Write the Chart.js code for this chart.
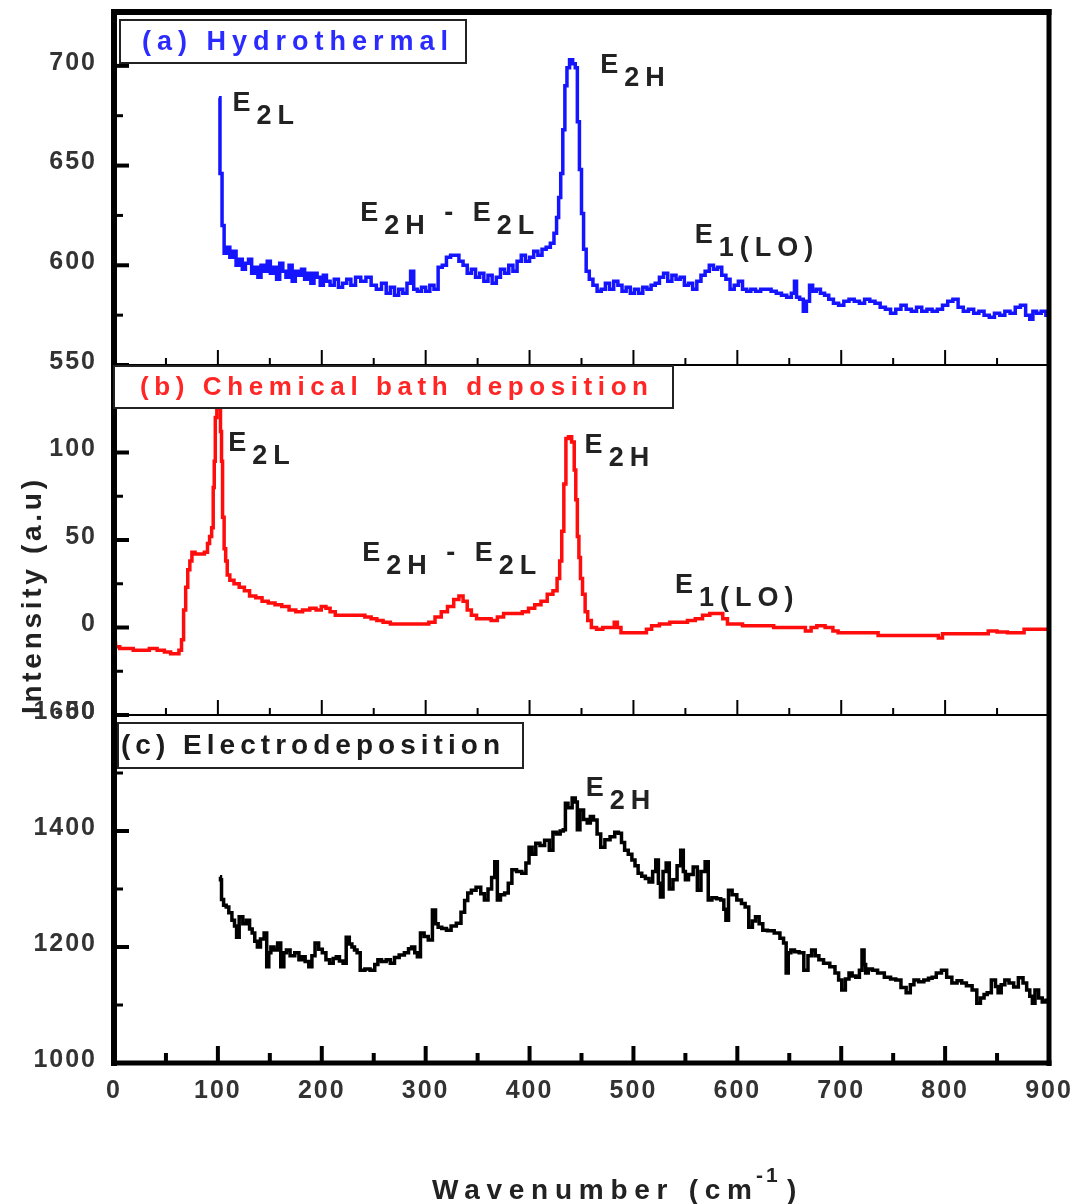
<!DOCTYPE html>
<html>
<head>
<meta charset="utf-8">
<script src="https://cdn.jsdelivr.net/npm/chart.js@4.4.0/dist/chart.umd.min.js"></script>
<style>
  html, body { margin: 0; padding: 0; background: #fff; }
  #wrap { width: 1074px; height: 1204px; position: relative; }
</style>
</head>
<body>
<div id="wrap"><canvas id="raman"></canvas></div>
<script>
// ---- data ----
const xMajorTicks = [0, 100, 200, 300, 400, 500, 600, 700, 800, 900];
const xMinorTicks = [50, 150, 250, 350, 450, 550, 650, 750, 850];

const aTicks = [550, 600, 650, 700];
const aMinor = [575, 625, 675];
const bTicks = [-50, 0, 50, 100];
const bMinor = [-25, 25, 75];
const cTicks = [1000, 1200, 1400, 1600];
const cMinor = [1100, 1300, 1500];

// (a) Hydrothermal
const aWave = [101,103,105,107,110,113,116,119,122,125,128,131,134,137,140,143,146,149,152,155,158,161,164,167,170,173,176,179,182,185,188,191,194,197,200,203,206,210,214,218,222,226,230,235,240,245,250,255,260,264,268,272,276,280,284,287,290,294,298,302,306,310,314,318,322,326,330,334,338,342,346,350,354,358,362,366,370,374,378,382,386,390,394,398,402,406,410,414,418,422,425,427,429,431,433,435,437,440,443,445,447,449,451,453,456,459,463,467,471,475,479,483,487,491,495,499,503,507,511,515,519,523,527,531,535,539,543,547,551,555,559,563,567,571,575,579,583,587,591,595,599,603,607,611,615,620,625,630,635,640,645,650,654,656,658,662,665,668,671,674,678,682,686,690,695,700,705,710,715,720,725,730,735,740,745,750,755,760,765,770,775,780,785,790,795,800,805,810,815,820,825,830,835,840,845,850,855,860,865,870,875,880,883,886,890,895,899];
const aInt = [684,646,620,606,609,604,607,600,603,598,601,603,596,599,594,600,597,602,596,599,593,601,597,594,600,592,597,595,598,593,596,591,596,594,590,595,592,590,593,589,591,593,590,594,592,594,590,588,591,586,589,585,588,586,591,597,588,587,589,587,590,588,599,600,604,605,605,602,600,596,598,594,596,592,595,591,594,598,596,600,597,602,605,602,604,607,605,608,609,611,616,624,634,646,668,690,699,703,701,699,672,648,626,608,597,593,590,587,588,591,588,592,590,587,589,586,588,586,589,588,590,591,594,596,592,595,593,594,590,591,588,592,595,597,600,598,599,595,593,588,590,592,588,587,588,587,588,588,587,586,585,584,586,592,584,583,577,582,590,587,588,586,585,583,581,580,582,583,582,581,583,582,581,579,578,576,578,580,578,577,579,577,578,577,578,580,582,583,579,577,578,576,577,575,574,576,575,577,576,579,580,575,573,577,576,577,575];

// (b) Chemical bath deposition
const bWave = [0,3,8,15,22,30,38,45,52,57,61,64,66,68,70,72,74,76,80,85,89,91,93,95,96,97,98,100,102,103,104,105,107,108,110,113,118,123,128,133,140,145,152,158,165,172,178,185,192,197,202,206,210,216,222,230,238,245,250,256,262,270,280,290,300,306,312,318,324,330,334,338,342,346,352,360,366,372,378,384,390,396,402,408,414,420,425,428,430,432,434,436,439,442,444,445,447,448,450,452,455,457,462,467,474,480,483,486,490,500,510,515,520,530,540,548,556,563,570,577,584,588,593,600,610,620,630,640,650,662,669,673,680,689,695,699,710,720,732,739,750,765,780,792,795,800,815,830,838,845,855,865,872,880,888,896,900];
const bInt = [-9,-11,-12,-12,-13,-13,-12,-13,-14,-15,-15,-13,-7,10,23,33,38,43,42,42,43,48,52,57,80,95,120,135,130,112,95,63,45,38,30,27,25,23,21,18,17,15,14,13,12,10,9,10,11,10,12,11,9,7,7,7,7,6,5,4,3,2,2,2,2,3,6,9,12,16,18,15,10,7,5,5,4,6,8,8,8,9,11,13,15,19,21,28,38,55,82,108,109,106,90,73,52,40,28,19,9,4,0,-1,0,0,3,0,-3,-3,-3,-1,1,2,3,3,4,5,7,8,8,5,2,2,1,1,1,0,0,0,-2,0,1,0,-2,-3,-3,-3,-3,-4.5,-4.5,-4.5,-4.5,-4.5,-6,-3.5,-3.5,-3.5,-3.5,-2,-2.5,-3,-3,-1,-1,-1,-1];

// (c) Electrodeposition
const cWave = [102,103,104,107,109,112,115,117,119,122,126,129,132,134,137,139,143,146,148,150,152,156,159,162,165,167,172,176,180,182,186,189,192,195,199,202,206,209,213,215,219,222,225,228,230,233,235,239,244,249,253,255,260,264,268,272,277,282,285,288,291,293,297,300,305,308,311,313,318,322,327,332,336,339,342,346,351,355,358,362,365,368,370,374,378,381,385,390,395,398,401,404,408,412,417,421,424,428,431,434,435,439,443,445,447,450,454,457,460,463,467,470,475,480,484,487,490,493,497,500,503,506,510,513,517,520,523,525,527,530,533,536,540,544,547,549,551,555,560,563,567,571,573,578,582,586,588,590,593,597,602,606,609,613,616,619,623,626,632,639,643,646,648,650,653,657,662,666,670,673,677,680,686,692,696,699,702,706,709,712,716,719,721,723,724,728,732,738,745,750,755,760,765,768,772,777,782,786,789,794,799,804,809,814,818,823,829,832,836,839,842,847,850,852,856,859,864,868,873,877,880,883,885,888,892,895,899];
const cInt = [1321,1316,1282,1272,1269,1259,1246,1236,1217,1252,1240,1246,1231,1224,1210,1200,1214,1224,1166,1190,1200,1195,1207,1166,1190,1195,1185,1190,1178,1183,1175,1166,1185,1207,1196,1190,1178,1172,1180,1183,1176,1172,1217,1205,1200,1195,1190,1160,1162,1160,1170,1178,1175,1178,1172,1182,1186,1190,1197,1200,1190,1183,1224,1218,1212,1264,1240,1234,1232,1229,1236,1241,1260,1280,1293,1298,1303,1292,1281,1300,1320,1347,1281,1290,1293,1310,1333,1330,1327,1345,1372,1360,1379,1375,1384,1367,1398,1395,1400,1402,1448,1440,1457,1450,1402,1436,1420,1414,1425,1419,1395,1372,1385,1390,1398,1396,1380,1367,1360,1350,1340,1327,1322,1318,1312,1330,1350,1310,1286,1330,1345,1300,1316,1340,1367,1330,1316,1325,1338,1298,1330,1347,1281,1285,1283,1281,1265,1246,1298,1290,1281,1275,1269,1234,1245,1252,1240,1229,1228,1224,1215,1207,1155,1190,1195,1192,1190,1160,1185,1195,1185,1178,1172,1166,1155,1143,1126,1145,1155,1150,1148,1160,1195,1170,1155,1162,1160,1155,1148,1145,1143,1130,1121,1135,1143,1140,1143,1146,1148,1155,1160,1148,1138,1142,1138,1133,1126,1103,1112,1118,1121,1143,1132,1121,1135,1143,1138,1131,1147,1138,1126,1115,1103,1126,1112,1105,1108];

// peak labels: [axis, wavenumber, value, parts]  (value = where the "E" sits)
const peakLabels = [
  ['yA', 114, 681, [['E', 0], ['2L', 1]]],
  ['yA', 237, 626, [['E', 0], ['2H', 1], [' - ', 0], ['E', 0], ['2L', 1]]],
  ['yA', 468, 700, [['E', 0], ['2H', 1]]],
  ['yA', 559, 615, [['E', 0], ['1(LO)', 1]]],
  ['yB', 110, 105, [['E', 0], ['2L', 1]]],
  ['yB', 239, 42, [['E', 0], ['2H', 1], [' - ', 0], ['E', 0], ['2L', 1]]],
  ['yB', 453, 104, [['E', 0], ['2H', 1]]],
  ['yB', 540, 24, [['E', 0], ['1(LO)', 1]]],
  ['yC', 454, 1474, [['E', 0], ['2H', 1]]]
];

const FAMILY = "'Liberation Sans', Arial, sans-serif";

function toPoints(xs, ys) {
  return xs.map((x, i) => ({ x: x, y: ys[i] }));
}

function noEdgePadding(s) {
  s.paddingTop = 0;
  s.paddingBottom = 0;
  s.paddingLeft = 0;
  s.paddingRight = 0;
}

function panelAxis(min, max, ticks, weight) {
  return {
    type: 'linear',
    position: 'left',
    stack: 'panels',
    stackWeight: weight,
    min: min,
    max: max,
    afterBuildTicks: s => { s.ticks = ticks.map(v => ({ value: v })); },
    afterFit: s => { s.width = 114; noEdgePadding(s); },
    grid: { display: false, drawTicks: false },
    border: { display: false },
    ticks: {
      font: { family: FAMILY, size: 25, weight: 'bold' },
      color: '#333',
      padding: 17,
      labelOffset: -3,
      autoSkip: false,
      callback: v => String(v)
    }
  };
}

// write text with letter spacing so that it spans a given width
function fitText(ctx, text, x, y, width) {
  ctx.letterSpacing = '0px';
  const w0 = ctx.measureText(text).width;
  ctx.letterSpacing = ((width - w0) / (text.length - 1)) + 'px';
  ctx.fillText(text, x, y);
  ctx.letterSpacing = '0px';
}

const spacingPlugin = {
  id: 'spacing',
  beforeDraw(chart) { chart.ctx.letterSpacing = '2px'; }
};

const decorPlugin = {
  id: 'decor',
  afterDraw(chart) {
    const { ctx, chartArea: ca, scales } = chart;
    const xs = scales.x;
    ctx.save();
    ctx.letterSpacing = '0px';
    ctx.strokeStyle = '#000';
    ctx.lineCap = 'butt';

    const line = (x1, y1, x2, y2, w) => {
      ctx.lineWidth = w;
      ctx.beginPath();
      ctx.moveTo(x1, y1);
      ctx.lineTo(x2, y2);
      ctx.stroke();
    };

    // panel dividers with upward ticks
    [scales.yA.bottom, scales.yB.bottom].forEach(yb => {
      line(ca.left, yb, ca.right, yb, 2);
      xMajorTicks.forEach(v => { const px = xs.getPixelForValue(v); line(px, yb, px, yb - 15, 2); });
      xMinorTicks.forEach(v => { const px = xs.getPixelForValue(v); line(px, yb, px, yb - 7, 2); });
    });
    // bottom axis ticks
    xMajorTicks.forEach(v => { const px = xs.getPixelForValue(v); line(px, ca.bottom, px, ca.bottom - 17, 4); });
    xMinorTicks.forEach(v => { const px = xs.getPixelForValue(v); line(px, ca.bottom, px, ca.bottom - 10, 4); });

    // y ticks, inside
    [[scales.yA, aTicks, aMinor], [scales.yB, bTicks, bMinor], [scales.yC, cTicks, cMinor]].forEach(([s, maj, mnr]) => {
      maj.forEach(v => { const py = s.getPixelForValue(v); line(ca.left, py, ca.left + 15, py, 4); });
      mnr.forEach(v => { const py = s.getPixelForValue(v); line(ca.left, py, ca.left + 9, py, 3); });
    });

    // outer frame
    line(ca.left, ca.top - 3, ca.left, ca.bottom + 3, 6);
    line(ca.right, ca.top - 3, ca.right, ca.bottom + 3, 5);
    line(ca.left - 3, ca.top, ca.right + 2.5, ca.top, 6);
    line(ca.left - 3, ca.bottom, ca.right + 2.5, ca.bottom, 5);

    // panel name boxes
    const boxes = [
      { x: 120, y: 20, w: 346, h: 43, tx: 142, tw: 306, size: 27, color: '#2b2bff', text: '(a) Hydrothermal' },
      { x: 114, y: 366, w: 559, h: 42, tx: 140, tw: 508, size: 26, color: '#ff2626', text: '(b) Chemical bath deposition' },
      { x: 118, y: 723, w: 405, h: 45, tx: 121, tw: 379, size: 28, color: '#1c1c1c', text: '(c) Electrodeposition' }
    ];
    boxes.forEach(b => {
      ctx.fillStyle = '#fff';
      ctx.fillRect(b.x, b.y, b.w, b.h);
      ctx.lineWidth = 2;
      ctx.strokeStyle = '#222';
      ctx.strokeRect(b.x, b.y, b.w, b.h);
      ctx.fillStyle = b.color;
      ctx.font = 'bold ' + b.size + 'px ' + FAMILY;
      ctx.textAlign = 'left';
      ctx.textBaseline = 'middle';
      fitText(ctx, b.text, b.tx, b.y + b.h / 2 + 1, b.tw);
    });

    // peak labels
    ctx.fillStyle = '#222';
    ctx.font = 'bold 27px ' + FAMILY;
    ctx.textAlign = 'left';
    ctx.textBaseline = 'middle';
    peakLabels.forEach(([axis, w, v, parts]) => {
      let cx = xs.getPixelForValue(w);
      const py = scales[axis].getPixelForValue(v);
      ctx.letterSpacing = '6px';
      parts.forEach(([t, sub]) => {
        ctx.fillText(t, cx, sub ? py + 13 : py);
        cx += ctx.measureText(t).width;
      });
    });
    ctx.letterSpacing = '0px';

    // y axis title
    ctx.save();
    ctx.translate(33, 597);
    ctx.rotate(-Math.PI / 2);
    ctx.font = 'bold 28px ' + FAMILY;
    ctx.fillStyle = '#222';
    fitText(ctx, 'Intensity (a.u)', -117, 0, 234);
    ctx.restore();

    // x axis title with superscript
    ctx.fillStyle = '#222';
    ctx.textBaseline = 'alphabetic';
    ctx.font = 'bold 28px ' + FAMILY;
    fitText(ctx, 'Wavenumber (cm', 432, 1199, 320);
    ctx.font = 'bold 21px ' + FAMILY;
    ctx.letterSpacing = '3px';
    ctx.fillText('-1', 756, 1182);
    ctx.letterSpacing = '0px';
    ctx.font = 'bold 28px ' + FAMILY;
    ctx.fillText(')', 787, 1199);

    ctx.restore();
  }
};

new Chart(document.getElementById('raman'), {
  type: 'line',
  data: {
    datasets: [
      { label: 'Hydrothermal', data: toPoints(aWave, aInt), yAxisID: 'yA', borderColor: '#1414ff', borderWidth: 3.5, pointRadius: 0, stepped: 'middle' },
      { label: 'Chemical bath deposition', data: toPoints(bWave, bInt), yAxisID: 'yB', borderColor: '#ff0d0d', borderWidth: 3.5, pointRadius: 0, stepped: 'middle' },
      { label: 'Electrodeposition', data: toPoints(cWave, cInt), yAxisID: 'yC', borderColor: '#000', borderWidth: 3.5, pointRadius: 0, stepped: 'middle' }
    ]
  },
  options: {
    responsive: true,
    maintainAspectRatio: false,
    animation: false,
    layout: { padding: { left: 0, right: 25, top: 12, bottom: 0 } },
    plugins: { legend: { display: false }, tooltip: { enabled: false }, title: { display: false } },
    scales: {
      x: {
        type: 'linear',
        min: 0,
        max: 900,
        afterBuildTicks: s => { s.ticks = xMajorTicks.map(v => ({ value: v })); },
        afterFit: s => { s.height = 141; noEdgePadding(s); },
        grid: { display: false, drawTicks: false },
        border: { display: false },
        ticks: {
          font: { family: FAMILY, size: 25, weight: 'bold' },
          color: '#333',
          padding: 13,
          maxRotation: 0,
          autoSkip: false,
          callback: v => String(v)
        }
      },
      yC: panelAxis(1000, 1600, cTicks, 348),
      yB: panelAxis(-50, 150, bTicks, 350),
      yA: panelAxis(550, 727, aTicks, 353)
    }
  },
  plugins: [spacingPlugin, decorPlugin]
});
</script>
</body>
</html>
